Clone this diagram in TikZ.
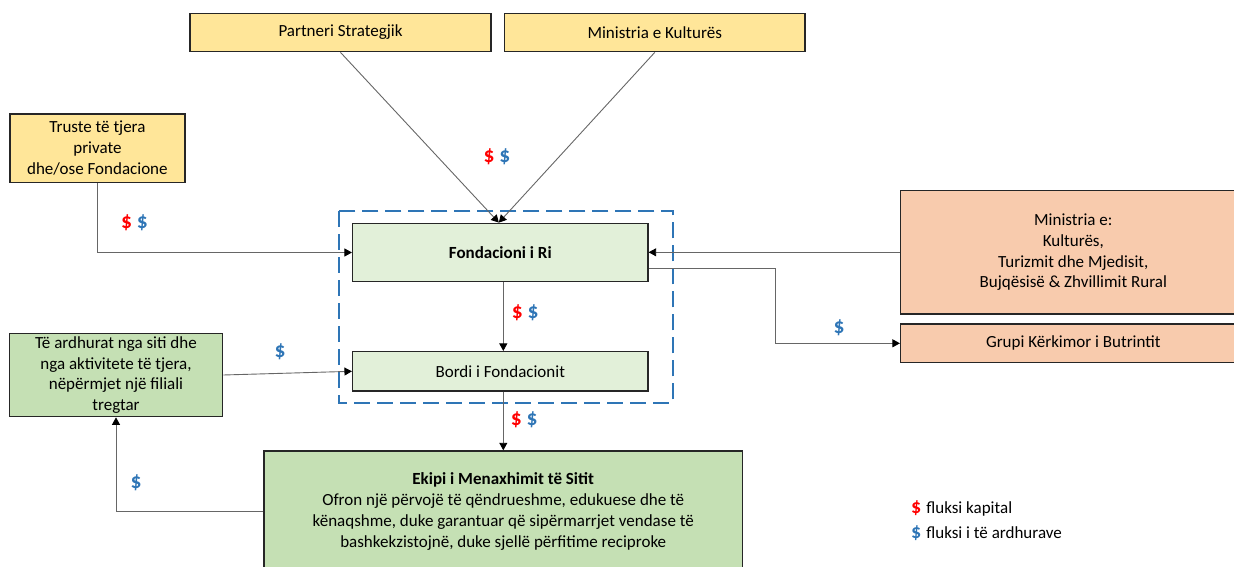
\documentclass[tikz,border=0pt]{standalone}
\usepackage{fontspec}
\setmainfont{Carlito}
\usepackage{tikz}
\usetikzlibrary{arrows.meta}
\definecolor{yellowbox}{HTML}{FFE699}
\definecolor{peachbox}{HTML}{F8CBAD}
\definecolor{palegreen}{HTML}{E2F0D9}
\definecolor{midgreen}{HTML}{C5E0B4}
\definecolor{capred}{HTML}{FF0000}
\definecolor{incblue}{HTML}{2E75B6}
\newcommand{\capd}{\textcolor{capred}{\$}}
\newcommand{\incd}{\textcolor{incblue}{\$}}

\begin{document}
\begin{tikzpicture}[
        x=1pt, y=-1pt,
        every node/.style={align=center, font=\fontsize{17}{20.7}\selectfont},
        box/.style={draw=black!85, line width=1.4pt, inner sep=0pt},
        conn/.style={draw=black!60, line width=0.9pt, -{Triangle[length=7.5pt,width=8pt,color=black]}},
        flow/.style={font=\fontsize{21.5}{24}\selectfont\bfseries, inner sep=0pt},
        group/.style={draw=incblue, line width=2.2pt, dash pattern=on 16pt off 7pt}
        ]
        \useasboundingbox (0,0) rectangle (1234,567);
        \clip (0,0) rectangle (1234,567);

        % Fondacioni group
        \draw[group] (339,211) rectangle (673,402.7);

        \node[box, fill=yellowbox, minimum width=301pt, minimum height=38.4pt] (partneri) at (340.5,32.5) {Partneri Strategjik};
        \node[box, fill=yellowbox, minimum width=300.5pt, minimum height=38.4pt] (minkult) at (654.75,32.5) {Ministria e Kulturës};
        \node[box, fill=yellowbox, minimum width=175pt, minimum height=68.3pt] (truste) at (97.4,148.2) {Truste të tjera\\private\\dhe/ose Fondacione};
        \node[box, fill=palegreen, minimum width=295.3pt, minimum height=58.4pt] (fondacioni) at (500.3,252.5) {\textbf{Fondacioni i Ri}};
        \node[box, fill=palegreen, minimum width=295.3pt, minimum height=39.3pt] (bordi) at (500.3,371.3) {Bordi i Fondacionit};
        \node[box, fill=midgreen, minimum width=213.4pt, minimum height=83.3pt] (ardhurat) at (116,375) {Të ardhurat nga siti dhe\\nga aktivitete të tjera,\\nëpërmjet një filiali\\tregtar};
        \node[box, fill=midgreen, minimum width=478.7pt, minimum height=121pt] (ekipi) at (503.2,511.5) {\textbf{Ekipi i Menaxhimit të Sitit}\\Ofron një përvojë të qëndrueshme, edukuese dhe të\\kënaqshme, duke garantuar që sipërmarrjet vendase të\\bashkekzistojnë, duke sjellë përfitime reciproke};
        \node[box, fill=peachbox, minimum width=345.4pt, minimum height=123.3pt] (ministrat) at (1073.3,252.3) {Ministria e:\\Kulturës,\\Turizmit dhe Mjedisit,\\Bujqësisë \& Zhvillimit Rural};
        \node[box, fill=peachbox, minimum width=345.4pt, minimum height=38.7pt] (grupi) at (1073.3,343.3) {Grupi Kërkimor i Butrintit};

        % Flows
        \draw[conn] (partneri.south) -- ([xshift=-1.5pt]fondacioni.north);
        \draw[conn] (minkult.south) -- ([xshift=-1.5pt]fondacioni.north);
        \draw[conn] (truste.south) |- (fondacioni.west);
        \draw[conn] (ministrat.west) -- (ministrat.west -| fondacioni.east);
        \draw[conn] ([yshift=-15.5pt]fondacioni.east) -- ++(126.5,0) |- (grupi.west);
        \draw[conn] ([xshift=3pt]fondacioni.south) -- ([xshift=3pt]bordi.north);
        \draw[conn] ([xshift=3pt]bordi.south) -- ([xshift=3pt]bordi.south |- ekipi.north);
        \draw[conn] (ardhurat.east) -- (bordi.west);
        \draw[conn] (ekipi.west) -| (ardhurat.south);

        \node[flow] (ftop) at (497,157) {\capd{} \incd};
        \node[flow] (fleft) at (134.5,223) {\capd{} \incd};
        \node[flow] (fmid) at (525.3,313) {\capd{} \incd};
        \node[flow] (flow) at (524.3,420) {\capd{} \incd};
        \node[flow] (fardh) at (280,352) {\incd};
        \node[flow] (fgrupi) at (839,328) {\incd};
        \node[flow] (fekipi) at (136,483) {\incd};

        % Legend
        \node[anchor=west, inner sep=0pt] (legcap) at (911,508) {{\fontsize{20}{20}\selectfont\bfseries\capd}\hspace{5pt}fluksi kapital};
        \node[anchor=west, inner sep=0pt] (leginc) at (911,533) {{\fontsize{20}{20}\selectfont\bfseries\incd}\hspace{5pt}fluksi i të ardhurave};
    \end{tikzpicture}
\end{document}
